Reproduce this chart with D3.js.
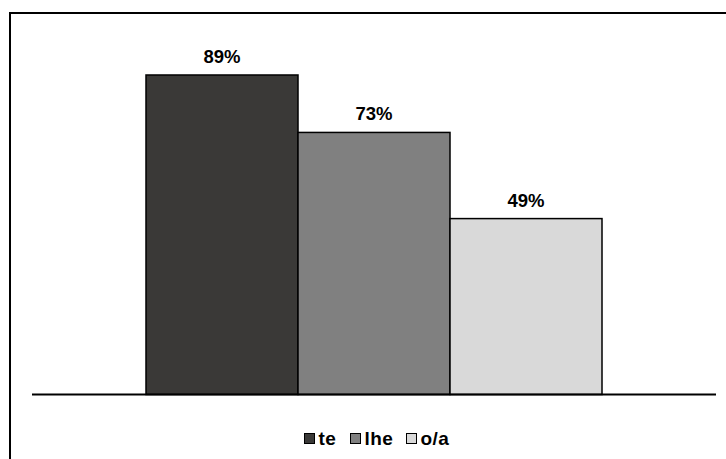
<!DOCTYPE html>
<html><head><meta charset="utf-8">
<script src="https://cdn.jsdelivr.net/npm/d3@7"></script>
<style>html,body{margin:0;padding:0;background:#fff;}svg{display:block;}</style>
</head><body>
<svg id="c" width="726" height="459"></svg>
<script>
const categories = ["te", "lhe", "o/a"];
const values = [89, 73, 49];
const labels = ["89%", "73%", "49%"];
const colors = ["#3a3937", "#808080", "#d9d9d9"];

const svg = d3.select("#c");
const font = "'Liberation Sans', Arial, sans-serif";

// outer border
svg.append("rect").attr("x", 10).attr("y", 13).attr("width", 740).attr("height", 470)
  .attr("fill", "#fff").attr("stroke", "#000").attr("stroke-width", 2);

const x = d3.scaleBand().domain(categories).range([146, 602]).paddingInner(0).paddingOuter(0);
const y = d3.scaleLinear().domain([0, 100]).range([394.5, 35.5]);

const g = svg.append("g");
g.selectAll("rect.bar").data(categories).join("rect")
  .attr("class", "bar")
  .attr("x", d => x(d))
  .attr("y", (d, i) => y(values[i]))
  .attr("width", x.bandwidth())
  .attr("height", (d, i) => y(0) - y(values[i]))
  .attr("fill", (d, i) => colors[i])
  .attr("stroke", "#000").attr("stroke-width", 1.5);

g.selectAll("text.lbl").data(categories).join("text")
  .attr("class", "lbl")
  .attr("x", d => x(d) + x.bandwidth() / 2)
  .attr("y", (d, i) => y(values[i]) - 12)
  .attr("text-anchor", "middle")
  .attr("font-family", font).attr("font-weight", "bold").attr("font-size", 18.5)
  .attr("fill", "#000")
  .text((d, i) => labels[i]);

// baseline axis
svg.append("line").attr("x1", 32).attr("x2", 716).attr("y1", y(0)).attr("y2", y(0))
  .attr("stroke", "#000").attr("stroke-width", 2);

// legend
const legendX = [304, 350, 406];
const lg = svg.append("g");
categories.forEach((c, i) => {
  lg.append("rect").attr("x", legendX[i] + 0.5).attr("y", 433.5).attr("width", 10).attr("height", 10)
    .attr("fill", colors[i]).attr("stroke", "#000").attr("stroke-width", 1);
  lg.append("text").attr("x", legendX[i] + 14.5).attr("y", 445)
    .attr("font-family", font).attr("font-weight", "bold").attr("font-size", 19)
    .attr("letter-spacing", 0.4)
    .attr("fill", "#000").text(c);
});
</script>
</body></html>
